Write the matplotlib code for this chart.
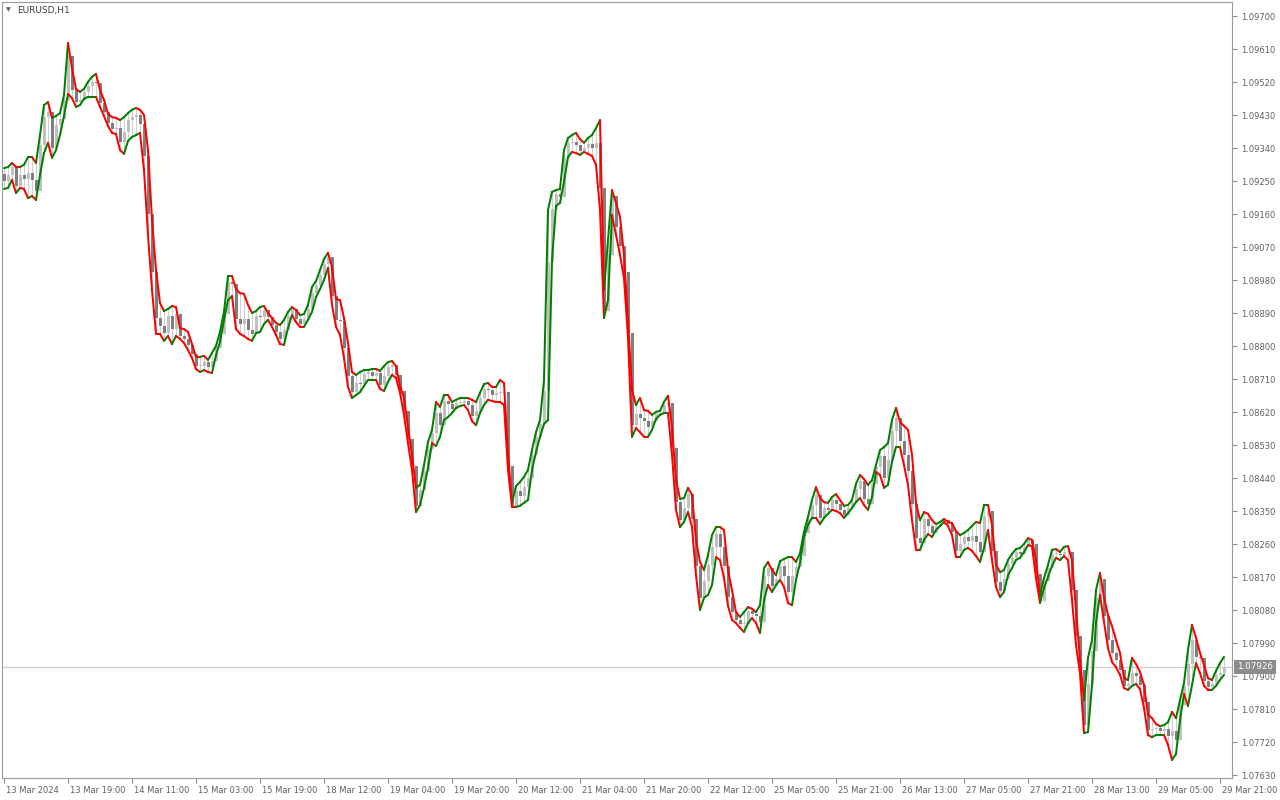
import matplotlib
matplotlib.use("Agg")
import matplotlib.pyplot as plt
from matplotlib.collections import LineCollection
from matplotlib import transforms
import numpy as np

symbol_title = "EURUSD,H1"
last_price = 1.07926
first_open = 1.09270

x_tick_bars = [0, 16, 32, 48, 64, 80, 96, 112, 128, 144, 160, 176, 192, 208, 224, 240, 256, 272, 288, 304]
x_tick_labels = ["13 Mar 2024", "13 Mar 19:00", "14 Mar 11:00", "15 Mar 03:00", "15 Mar 19:00",
                 "18 Mar 12:00", "19 Mar 04:00", "19 Mar 20:00", "20 Mar 12:00", "21 Mar 04:00",
                 "21 Mar 20:00", "22 Mar 12:00", "25 Mar 05:00", "25 Mar 21:00", "26 Mar 13:00",
                 "27 Mar 05:00", "27 Mar 21:00", "28 Mar 13:00", "29 Mar 05:00", "29 Mar 21:00"]
price_ticks = [1.07630, 1.07720, 1.07810, 1.07900, 1.07990, 1.08080, 1.08170, 1.08260, 1.08350,
               1.08440, 1.08530, 1.08620, 1.08710, 1.08800, 1.08890, 1.08980, 1.09070, 1.09160,
               1.09250, 1.09340, 1.09430, 1.09520, 1.09610, 1.09700]

upper = [
    1.09286, 1.09289, 1.09300, 1.09289, 1.09289, 1.09295, 1.09316, 1.09316, 1.09300, 1.09376,
    1.09458, 1.09466, 1.09423, 1.09428, 1.09436, 1.09485, 1.09627, 1.09559, 1.09502, 1.09494,
    1.09502, 1.09521, 1.09535, 1.09543, 1.09499, 1.09472, 1.09434, 1.09425, 1.09423, 1.09417,
    1.09425, 1.09436, 1.09445, 1.09450, 1.09445, 1.09431, 1.09335, 1.09145, 1.09008, 1.08918,
    1.08896, 1.08902, 1.08910, 1.08907, 1.08850, 1.08847, 1.08839, 1.08806, 1.08771, 1.08771,
    1.08774, 1.08763, 1.08782, 1.08801, 1.08839, 1.08894, 1.08992, 1.08992, 1.08956, 1.08945,
    1.08943, 1.08913, 1.08891, 1.08896, 1.08907, 1.08910, 1.08891, 1.08877, 1.08864, 1.08858,
    1.08872, 1.08894, 1.08907, 1.08899, 1.08885, 1.08888, 1.08913, 1.08962, 1.08978, 1.09008,
    1.09038, 1.09055, 1.09016, 1.08929, 1.08926, 1.08877, 1.08809, 1.08730, 1.08722, 1.08730,
    1.08735, 1.08735, 1.08738, 1.08738, 1.08733, 1.08746, 1.08757, 1.08760, 1.08746, 1.08692,
    1.08659, 1.08580, 1.08504, 1.08414, 1.08422, 1.08476, 1.08539, 1.08572, 1.08648, 1.08635,
    1.08667, 1.08667, 1.08648, 1.08654, 1.08659, 1.08659, 1.08659, 1.08654, 1.08648, 1.08673,
    1.08697, 1.08700, 1.08689, 1.08689, 1.08708, 1.08700, 1.08509, 1.08373, 1.08419, 1.08430,
    1.08444, 1.08463, 1.08517, 1.08566, 1.08599, 1.08708, 1.09172, 1.09221, 1.09226, 1.09229,
    1.09335, 1.09368, 1.09376, 1.09382, 1.09365, 1.09355, 1.09368, 1.09376, 1.09395, 1.09417,
    1.08954, 1.09090, 1.09226, 1.09191, 1.09153, 1.09049, 1.08872, 1.08681, 1.08640, 1.08659,
    1.08626, 1.08624, 1.08613, 1.08621, 1.08624, 1.08648, 1.08665, 1.08580, 1.08435, 1.08384,
    1.08386, 1.08414, 1.08395, 1.08272, 1.08212, 1.08190, 1.08231, 1.08285, 1.08307, 1.08307,
    1.08299, 1.08190, 1.08135, 1.08075, 1.08062, 1.08075, 1.08089, 1.08084, 1.08075, 1.08094,
    1.08195, 1.08212, 1.08190, 1.08176, 1.08214, 1.08220, 1.08225, 1.08225, 1.08212, 1.08236,
    1.08294, 1.08335, 1.08381, 1.08416, 1.08386, 1.08375, 1.08373, 1.08389, 1.08397, 1.08381,
    1.08365, 1.08367, 1.08381, 1.08425, 1.08449, 1.08438, 1.08422, 1.08435, 1.08476, 1.08517,
    1.08525, 1.08536, 1.08599, 1.08632, 1.08594, 1.08583, 1.08572, 1.08504, 1.08373, 1.08326,
    1.08348, 1.08343, 1.08326, 1.08315, 1.08321, 1.08329, 1.08321, 1.08318, 1.08296, 1.08285,
    1.08291, 1.08299, 1.08310, 1.08321, 1.08318, 1.08367, 1.08367, 1.08313, 1.08204, 1.08184,
    1.08190, 1.08217, 1.08234, 1.08247, 1.08250, 1.08261, 1.08277, 1.08272, 1.08217, 1.08122,
    1.08168, 1.08204, 1.08245, 1.08247, 1.08239, 1.08253, 1.08255, 1.08217, 1.08081, 1.07945,
    1.07835, 1.07950, 1.07999, 1.08135, 1.08182, 1.08116, 1.08067, 1.08037, 1.07999, 1.07964,
    1.07895, 1.07890, 1.07950, 1.07934, 1.07912, 1.07876, 1.07795, 1.07786, 1.07770, 1.07764,
    1.07767, 1.07775, 1.07803, 1.07786, 1.07835, 1.07882, 1.07972, 1.08040, 1.08005, 1.07964,
    1.07931, 1.07895, 1.07890, 1.07915, 1.07936, 1.07953,
]

lower = [
    1.09229, 1.09232, 1.09254, 1.09218, 1.09232, 1.09229, 1.09204, 1.09210, 1.09199, 1.09267,
    1.09327, 1.09355, 1.09314, 1.09335, 1.09376, 1.09428, 1.09488, 1.09477, 1.09453, 1.09458,
    1.09475, 1.09480, 1.09480, 1.09480, 1.09453, 1.09428, 1.09401, 1.09382, 1.09379, 1.09335,
    1.09325, 1.09360, 1.09371, 1.09376, 1.09382, 1.09281, 1.09104, 1.08954, 1.08834, 1.08834,
    1.08815, 1.08828, 1.08806, 1.08828, 1.08820, 1.08809, 1.08790, 1.08768, 1.08738, 1.08730,
    1.08735, 1.08730, 1.08727, 1.08776, 1.08812, 1.08872, 1.08926, 1.08937, 1.08847, 1.08834,
    1.08828, 1.08820, 1.08815, 1.08836, 1.08839, 1.08861, 1.08872, 1.08853, 1.08831, 1.08806,
    1.08804, 1.08850, 1.08885, 1.08866, 1.08853, 1.08853, 1.08872, 1.08894, 1.08934, 1.08956,
    1.08981, 1.09014, 1.08913, 1.08853, 1.08831, 1.08768, 1.08689, 1.08659, 1.08667, 1.08675,
    1.08692, 1.08708, 1.08708, 1.08708, 1.08684, 1.08678, 1.08703, 1.08722, 1.08714, 1.08673,
    1.08613, 1.08536, 1.08463, 1.08348, 1.08367, 1.08414, 1.08468, 1.08536, 1.08528, 1.08553,
    1.08599, 1.08607, 1.08618, 1.08632, 1.08637, 1.08640, 1.08626, 1.08596, 1.08585, 1.08618,
    1.08640, 1.08654, 1.08651, 1.08648, 1.08648, 1.08640, 1.08463, 1.08362, 1.08362, 1.08365,
    1.08373, 1.08381, 1.08463, 1.08512, 1.08553, 1.08588, 1.08599, 1.09035, 1.09183, 1.09191,
    1.09248, 1.09316, 1.09330, 1.09327, 1.09322, 1.09330, 1.09325, 1.09319, 1.09295, 1.09172,
    1.08877, 1.08926, 1.09158, 1.09104, 1.09049, 1.08986, 1.08825, 1.08553, 1.08577, 1.08566,
    1.08553, 1.08553, 1.08572, 1.08602, 1.08613, 1.08618, 1.08618, 1.08504, 1.08354, 1.08307,
    1.08321, 1.08348, 1.08307, 1.08176, 1.08081, 1.08114, 1.08122, 1.08149, 1.08225, 1.08217,
    1.08168, 1.08092, 1.08054, 1.08045, 1.08032, 1.08021, 1.08045, 1.08059, 1.08045, 1.08018,
    1.08108, 1.08149, 1.08130, 1.08149, 1.08163, 1.08144, 1.08100, 1.08094, 1.08163, 1.08209,
    1.08280, 1.08313, 1.08332, 1.08332, 1.08315, 1.08332, 1.08343, 1.08354, 1.08351, 1.08345,
    1.08332, 1.08345, 1.08359, 1.08375, 1.08386, 1.08367, 1.08354, 1.08389, 1.08457, 1.08449,
    1.08414, 1.08422, 1.08485, 1.08525, 1.08525, 1.08476, 1.08422, 1.08326, 1.08245, 1.08245,
    1.08272, 1.08288, 1.08280, 1.08299, 1.08310, 1.08321, 1.08310, 1.08285, 1.08225, 1.08225,
    1.08245, 1.08250, 1.08242, 1.08228, 1.08212, 1.08250, 1.08299, 1.08217, 1.08144, 1.08116,
    1.08130, 1.08176, 1.08195, 1.08217, 1.08223, 1.08239, 1.08258, 1.08255, 1.08168, 1.08100,
    1.08141, 1.08171, 1.08201, 1.08223, 1.08217, 1.08228, 1.08217, 1.08108, 1.07985, 1.07909,
    1.07745, 1.07748, 1.07876, 1.08048, 1.08122, 1.08048, 1.07977, 1.07939, 1.07925, 1.07904,
    1.07868, 1.07863, 1.07874, 1.07879, 1.07865, 1.07814, 1.07740, 1.07734, 1.07740, 1.07740,
    1.07740, 1.07713, 1.07672, 1.07688, 1.07781, 1.07852, 1.07819, 1.07876, 1.07936, 1.07909,
    1.07874, 1.07863, 1.07863, 1.07874, 1.07890, 1.07904,
]

closes = [
    1.09251, 1.09267, 1.09289, 1.09237, 1.09267, 1.09256, 1.09273, 1.09254, 1.09224, 1.09349,
    1.09425, 1.09439, 1.09341, 1.09404, 1.09420, 1.09472, 1.09592, 1.09499, 1.09466, 1.09472,
    1.09494, 1.09510, 1.09521, 1.09518, 1.09464, 1.09439, 1.09409, 1.09393, 1.09395, 1.09357,
    1.09385, 1.09417, 1.09425, 1.09431, 1.09406, 1.09319, 1.09161, 1.09003, 1.08877, 1.08855,
    1.08836, 1.08883, 1.08847, 1.08888, 1.08828, 1.08820, 1.08804, 1.08779, 1.08746, 1.08746,
    1.08757, 1.08744, 1.08760, 1.08795, 1.08834, 1.08888, 1.08975, 1.08970, 1.08875, 1.08861,
    1.08875, 1.08845, 1.08834, 1.08883, 1.08880, 1.08899, 1.08880, 1.08858, 1.08839, 1.08820,
    1.08845, 1.08883, 1.08902, 1.08875, 1.08861, 1.08875, 1.08902, 1.08945, 1.08967, 1.08995,
    1.09025, 1.09044, 1.08937, 1.08872, 1.08869, 1.08795, 1.08719, 1.08675, 1.08700, 1.08697,
    1.08725, 1.08730, 1.08719, 1.08727, 1.08695, 1.08719, 1.08744, 1.08749, 1.08722, 1.08678,
    1.08624, 1.08547, 1.08474, 1.08365, 1.08408, 1.08460, 1.08520, 1.08564, 1.08618, 1.08585,
    1.08651, 1.08643, 1.08629, 1.08645, 1.08645, 1.08651, 1.08640, 1.08610, 1.08624, 1.08659,
    1.08684, 1.08681, 1.08667, 1.08673, 1.08673, 1.08675, 1.08474, 1.08365, 1.08405, 1.08392,
    1.08416, 1.08441, 1.08504, 1.08553, 1.08588, 1.08678, 1.09030, 1.09174, 1.09215, 1.09207,
    1.09314, 1.09355, 1.09357, 1.09349, 1.09333, 1.09341, 1.09352, 1.09341, 1.09355, 1.09232,
    1.08896, 1.09049, 1.09210, 1.09125, 1.09074, 1.09003, 1.08836, 1.08585, 1.08615, 1.08605,
    1.08596, 1.08580, 1.08596, 1.08615, 1.08618, 1.08640, 1.08645, 1.08523, 1.08375, 1.08326,
    1.08359, 1.08397, 1.08329, 1.08201, 1.08114, 1.08160, 1.08204, 1.08253, 1.08288, 1.08253,
    1.08201, 1.08116, 1.08075, 1.08054, 1.08043, 1.08043, 1.08078, 1.08070, 1.08064, 1.08048,
    1.08174, 1.08195, 1.08146, 1.08165, 1.08201, 1.08174, 1.08130, 1.08174, 1.08198, 1.08228,
    1.08291, 1.08329, 1.08367, 1.08395, 1.08332, 1.08359, 1.08354, 1.08381, 1.08370, 1.08354,
    1.08340, 1.08359, 1.08375, 1.08411, 1.08433, 1.08384, 1.08370, 1.08425, 1.08471, 1.08501,
    1.08441, 1.08490, 1.08569, 1.08605, 1.08542, 1.08504, 1.08460, 1.08370, 1.08277, 1.08264,
    1.08329, 1.08310, 1.08291, 1.08310, 1.08315, 1.08326, 1.08315, 1.08294, 1.08242, 1.08261,
    1.08280, 1.08269, 1.08283, 1.08266, 1.08239, 1.08337, 1.08351, 1.08242, 1.08157, 1.08133,
    1.08165, 1.08206, 1.08223, 1.08239, 1.08234, 1.08253, 1.08272, 1.08261, 1.08179, 1.08105,
    1.08160, 1.08195, 1.08234, 1.08234, 1.08231, 1.08239, 1.08239, 1.08135, 1.08010, 1.07917,
    1.07767, 1.07879, 1.07969, 1.08114, 1.08165, 1.08064, 1.07999, 1.07964, 1.07945, 1.07917,
    1.07874, 1.07879, 1.07909, 1.07901, 1.07876, 1.07830, 1.07754, 1.07756, 1.07759, 1.07751,
    1.07756, 1.07737, 1.07751, 1.07726, 1.07822, 1.07874, 1.07934, 1.07999, 1.07953, 1.07950,
    1.07887, 1.07871, 1.07879, 1.07904, 1.07909, 1.07926,
]

# ---------------------------------------------------------------- figure
W, H = 1280, 800
fig = plt.figure(figsize=(W / 100, H / 100), dpi=100, facecolor="white")
ax_l, ax_r, ax_t, ax_b = 2, 1232, 2, 778
ax = fig.add_axes([ax_l / W, 1 - ax_b / H, (ax_r - ax_l) / W, (ax_b - ax_t) / H])
ax.set_facecolor("white")

n = len(closes)
xs = np.arange(n)
c = np.array(closes)
o = np.array([first_open] + closes[:-1])
up_arr = np.array(upper)
lo_arr = np.array(lower)

# candle wicks (range of each bar, approximated by the band)
wick_hi = np.maximum(up_arr, np.maximum(o, c))
wick_lo = np.minimum(lo_arr, np.minimum(o, c))
ax.vlines(xs, wick_lo, wick_hi, colors="#cfcfcf", linewidth=0.75, zorder=1.5)

# candle bodies
bull = c >= o
body_bottom = np.minimum(o, c)
body_h = np.maximum(np.abs(c - o), 0.00003)
ax.bar(xs, body_h, bottom=body_bottom, width=0.75,
       color=np.where(bull, "#c0c0c0", "#7f7f7f"), linewidth=0, zorder=2)

# current price line
ax.axhline(last_price, color="#cccccc", lw=0.9, zorder=1)


def slope_line(vals):
    v = np.asarray(vals)
    pts = np.column_stack([xs, v])
    segs = np.stack([pts[:-1], pts[1:]], axis=1)
    cols = []
    prev = "#008000"
    for a, b in zip(v[:-1], v[1:]):
        if b > a:
            prev = "#008000"
        elif b < a:
            prev = "#ff0000"
        cols.append(prev)
    lc = LineCollection(segs, colors=cols, linewidths=1.45, capstyle="round",
                        joinstyle="round", zorder=3)
    ax.add_collection(lc)


slope_line(upper)
slope_line(lower)

# axes limits
ax.set_xlim(-0.5, 307)
ax.set_ylim(1.076227, 1.097390)

# spines
for s in ax.spines.values():
    s.set_color("#9a9a9a")
    s.set_linewidth(0.8)

# y axis on the right
ax.yaxis.tick_right()
ax.set_yticks(price_ticks)
ax.set_yticklabels([f"{p:.5f}" for p in price_ticks])
ax.tick_params(axis="y", direction="out", length=3.5, width=0.8, color="#8c8c8c",
               labelsize=6, labelcolor="#606060", pad=3)

# x axis
ax.set_xticks(x_tick_bars)
ax.set_xticklabels(x_tick_labels)
ax.tick_params(axis="x", direction="out", length=3.5, width=0.8, color="#8c8c8c",
               labelsize=6, labelcolor="#606060", pad=2)
offset = transforms.ScaledTranslation(1.5 / 100, 0, fig.dpi_scale_trans)
for lab in ax.get_xticklabels():
    lab.set_horizontalalignment("left")
    lab.set_transform(lab.get_transform() + offset)

for lab in ax.get_yticklabels() + ax.get_xticklabels():
    lab.set_fontfamily("DejaVu Sans")

# current price label
trans = transforms.blended_transform_factory(ax.transAxes, ax.transData)
ax.text(1.0 + 5 / (ax_r - ax_l), last_price, f"{last_price:.5f}", transform=trans,
        fontsize=6.3, color="white", va="center", ha="left", zorder=5, clip_on=False,
        bbox=dict(boxstyle="square,pad=0.3", fc="#8c8c8c", ec="none"))

# title
fig.text(8 / W, 1 - 10 / H, "\u25bc", fontsize=4.5, ha="center", va="center", color="#606060")
fig.text(17 / W, 1 - 10 / H, symbol_title, fontsize=6.5, ha="left", va="center", color="#404040")

fig.savefig("out.png", dpi=100, facecolor="white")
